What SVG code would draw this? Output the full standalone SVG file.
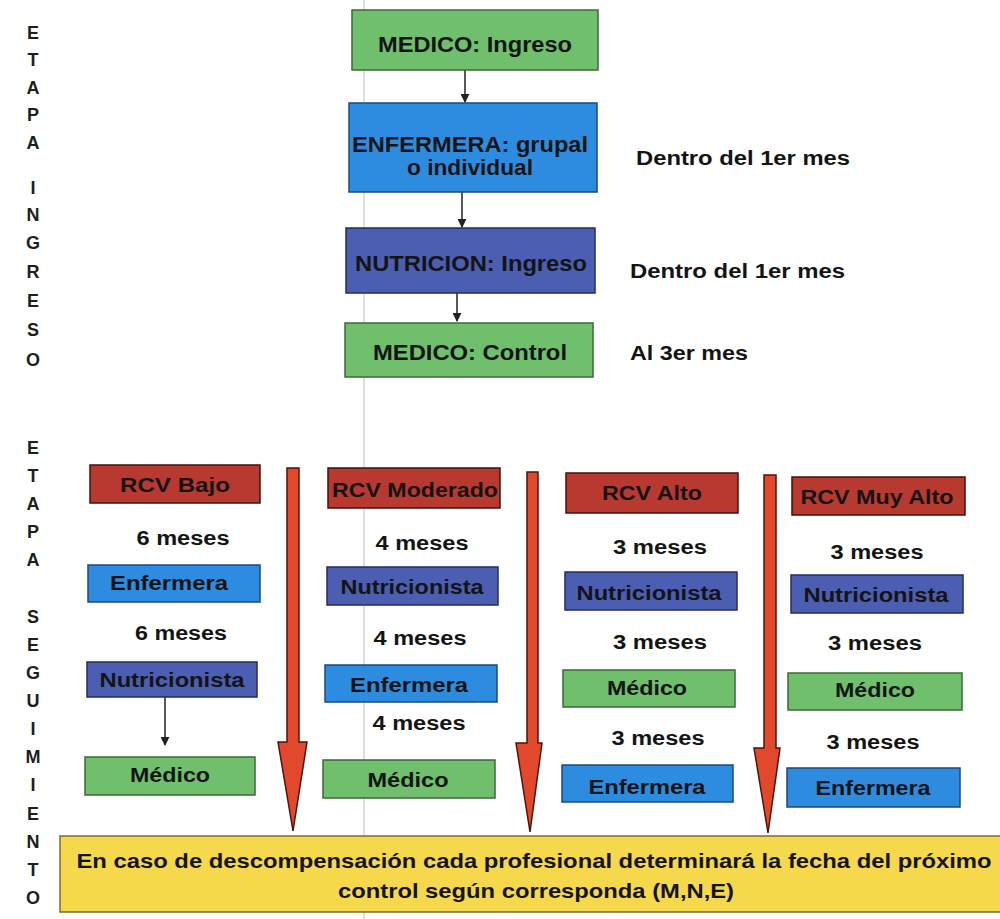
<svg xmlns="http://www.w3.org/2000/svg" width="1000" height="919" viewBox="0 0 1000 919">
  <defs>
    <style>
      .t { font-family: "Liberation Sans", Arial, sans-serif; font-weight: bold; fill: #141414; }
      .big { font-size: 22px; }
      .mid { font-size: 20px; }
      .side { font-size: 18px; fill: #1e1e1e; }
      .green { fill: #6fbf6c; stroke: #3b6a38; stroke-width: 1.5; }
      .blue { fill: #2e8ce0; stroke: #1c4a7a; stroke-width: 1.5; }
      .slate { fill: #4b5eb2; stroke: #242d5c; stroke-width: 1.5; }
      .red { fill: #b7392f; stroke: #40120e; stroke-width: 1.5; }
      .yellow { fill: #f6d84c; stroke: #7d6d2a; stroke-width: 1.5; }
      .flow { fill: #e2492c; stroke: #4e150c; stroke-width: 1.5; }
      .link { stroke: #222; stroke-width: 1.5; fill: none; }
    </style>
    <marker id="tip" viewBox="0 0 10 10" refX="9" refY="5" markerWidth="6" markerHeight="6" orient="auto">
      <path d="M0,0 L10,5 L0,10 z" fill="#222"/>
    </marker>
  </defs>

  <rect width="1000" height="919" fill="#ffffff"/>
  <!-- faint fold line -->
  <line x1="364" y1="0" x2="364" y2="919" stroke="#c9c9c9" stroke-width="1.2"/>

  <!-- stage labels -->
  <g id="etapa-ingreso" class="t side" text-anchor="middle">
    <text x="33" y="39">E</text>
    <text x="33" y="66">T</text>
    <text x="33" y="94">A</text>
    <text x="33" y="121">P</text>
    <text x="33" y="149">A</text>
    <text x="33" y="194">I</text>
    <text x="33" y="221">N</text>
    <text x="33" y="249">G</text>
    <text x="33" y="278">R</text>
    <text x="33" y="307">E</text>
    <text x="33" y="336">S</text>
    <text x="33" y="366">O</text>
  </g>
  <g id="etapa-seguimiento" class="t side" text-anchor="middle">
    <text x="33" y="454">E</text>
    <text x="33" y="482">T</text>
    <text x="33" y="510">A</text>
    <text x="33" y="538">P</text>
    <text x="33" y="566">A</text>
    <text x="33" y="623">S</text>
    <text x="33" y="651">E</text>
    <text x="33" y="679">G</text>
    <text x="33" y="707">U</text>
    <text x="33" y="735">I</text>
    <text x="33" y="763">M</text>
    <text x="33" y="791">I</text>
    <text x="33" y="820">E</text>
    <text x="33" y="848">N</text>
    <text x="33" y="876">T</text>
    <text x="33" y="904">O</text>
  </g>

  <!-- connectors -->
  <g id="connectors">
    <line class="link" x1="465" y1="70" x2="465" y2="102" marker-end="url(#tip)"/>
    <line class="link" x1="462" y1="192" x2="462" y2="227" marker-end="url(#tip)"/>
    <line class="link" x1="457" y1="293" x2="457" y2="321" marker-end="url(#tip)"/>
    <line class="link" x1="165" y1="697" x2="165" y2="745" marker-end="url(#tip)"/>
    <polygon class="flow" points="287,468 299,468 299,742 307,742 293,831 278,742 287,742"/>
    <polygon class="flow" points="527,472 538,472 538,743 542,743 530,832 516,743 527,743"/>
    <polygon class="flow" points="764,475 776,475 776,748 780,748 768,833 754,748 764,748"/>
  </g>

  <!-- intake stage -->
  <g id="medico-ingreso">
    <rect class="green" x="352" y="10" width="246" height="60"/>
    <text class="t big" x="475" y="52" text-anchor="middle" textLength="194" lengthAdjust="spacingAndGlyphs">MEDICO: Ingreso</text>
  </g>
  <g id="enfermera-ingreso">
    <rect class="blue" x="349" y="103" width="248" height="89"/>
    <text class="t big" x="470" y="152" text-anchor="middle" textLength="236" lengthAdjust="spacingAndGlyphs">ENFERMERA: grupal</text>
    <text class="t big" x="470" y="175" text-anchor="middle" textLength="126" lengthAdjust="spacingAndGlyphs">o individual</text>
  </g>
  <g id="nutricion-ingreso">
    <rect class="slate" x="346" y="228" width="249" height="65"/>
    <text class="t big" x="471" y="271" text-anchor="middle" textLength="232" lengthAdjust="spacingAndGlyphs">NUTRICION: Ingreso</text>
  </g>
  <g id="medico-control">
    <rect class="green" x="345" y="323" width="248" height="54"/>
    <text class="t big" x="470" y="360" text-anchor="middle" textLength="194" lengthAdjust="spacingAndGlyphs">MEDICO: Control</text>
  </g>
  <g id="plazos" class="t mid">
    <text x="636" y="165" textLength="214" lengthAdjust="spacingAndGlyphs">Dentro del 1er mes</text>
    <text x="630" y="278" textLength="215" lengthAdjust="spacingAndGlyphs">Dentro del 1er mes</text>
    <text x="630" y="360" textLength="118" lengthAdjust="spacingAndGlyphs">Al 3er mes</text>
  </g>

  <!-- follow-up: low risk -->
  <g id="rcv-bajo" class="t mid" text-anchor="middle">
    <rect class="red" x="90" y="465" width="170" height="38"/>
    <text x="175" y="492" textLength="110" lengthAdjust="spacingAndGlyphs">RCV Bajo</text>
    <text x="183" y="545" textLength="93" lengthAdjust="spacingAndGlyphs">6 meses</text>
    <rect class="blue" x="88" y="565" width="172" height="37"/>
    <text x="169" y="590" textLength="118" lengthAdjust="spacingAndGlyphs">Enfermera</text>
    <text x="181" y="640" textLength="92" lengthAdjust="spacingAndGlyphs">6 meses</text>
    <rect class="slate" x="87" y="662" width="170" height="35"/>
    <text x="172" y="687" textLength="145" lengthAdjust="spacingAndGlyphs">Nutricionista</text>
    <rect class="green" x="85" y="757" width="170" height="38"/>
    <text x="170" y="782" textLength="80" lengthAdjust="spacingAndGlyphs">Médico</text>
  </g>

  <!-- follow-up: moderate risk -->
  <g id="rcv-moderado" class="t mid" text-anchor="middle">
    <rect class="red" x="328" y="468" width="172" height="40"/>
    <text x="415" y="497" textLength="166" lengthAdjust="spacingAndGlyphs">RCV Moderado</text>
    <text x="422" y="550" textLength="93" lengthAdjust="spacingAndGlyphs">4 meses</text>
    <rect class="slate" x="327" y="567" width="171" height="38"/>
    <text x="412" y="594" textLength="143" lengthAdjust="spacingAndGlyphs">Nutricionista</text>
    <text x="420" y="645" textLength="93" lengthAdjust="spacingAndGlyphs">4 meses</text>
    <rect class="blue" x="325" y="665" width="172" height="37"/>
    <text x="409" y="692" textLength="118" lengthAdjust="spacingAndGlyphs">Enfermera</text>
    <text x="419" y="730" textLength="93" lengthAdjust="spacingAndGlyphs">4 meses</text>
    <rect class="green" x="323" y="760" width="172" height="38"/>
    <text x="408" y="787" textLength="81" lengthAdjust="spacingAndGlyphs">Médico</text>
  </g>

  <!-- follow-up: high risk -->
  <g id="rcv-alto" class="t mid" text-anchor="middle">
    <rect class="red" x="566" y="473" width="172" height="40"/>
    <text x="652" y="500" textLength="100" lengthAdjust="spacingAndGlyphs">RCV Alto</text>
    <text x="660" y="554" textLength="94" lengthAdjust="spacingAndGlyphs">3 meses</text>
    <rect class="slate" x="565" y="572" width="172" height="38"/>
    <text x="649" y="600" textLength="145" lengthAdjust="spacingAndGlyphs">Nutricionista</text>
    <text x="660" y="649" textLength="94" lengthAdjust="spacingAndGlyphs">3 meses</text>
    <rect class="green" x="563" y="670" width="172" height="37"/>
    <text x="647" y="695" textLength="80" lengthAdjust="spacingAndGlyphs">Médico</text>
    <text x="658" y="745" textLength="93" lengthAdjust="spacingAndGlyphs">3 meses</text>
    <rect class="blue" x="562" y="765" width="171" height="37"/>
    <text x="647" y="794" textLength="117" lengthAdjust="spacingAndGlyphs">Enfermera</text>
  </g>

  <!-- follow-up: very high risk -->
  <g id="rcv-muy-alto" class="t mid" text-anchor="middle">
    <rect class="red" x="792" y="477" width="173" height="38"/>
    <text x="877" y="504" textLength="153" lengthAdjust="spacingAndGlyphs">RCV Muy Alto</text>
    <text x="877" y="559" textLength="93" lengthAdjust="spacingAndGlyphs">3 meses</text>
    <rect class="slate" x="791" y="575" width="172" height="38"/>
    <text x="876" y="602" textLength="145" lengthAdjust="spacingAndGlyphs">Nutricionista</text>
    <text x="875" y="650" textLength="94" lengthAdjust="spacingAndGlyphs">3 meses</text>
    <rect class="green" x="788" y="673" width="174" height="37"/>
    <text x="875" y="697" textLength="80" lengthAdjust="spacingAndGlyphs">Médico</text>
    <text x="873" y="749" textLength="93" lengthAdjust="spacingAndGlyphs">3 meses</text>
    <rect class="blue" x="787" y="768" width="173" height="39"/>
    <text x="873" y="795" textLength="115" lengthAdjust="spacingAndGlyphs">Enfermera</text>
  </g>

  <!-- note -->
  <g id="nota" class="t" text-anchor="middle" font-size="21">
    <rect class="yellow" x="60" y="836" width="945" height="76"/>
    <text x="534" y="868" textLength="915" lengthAdjust="spacingAndGlyphs">En caso de descompensación cada profesional determinará la fecha del próximo</text>
    <text x="536" y="898" textLength="396" lengthAdjust="spacingAndGlyphs">control según corresponda (M,N,E)</text>
  </g>
</svg>
